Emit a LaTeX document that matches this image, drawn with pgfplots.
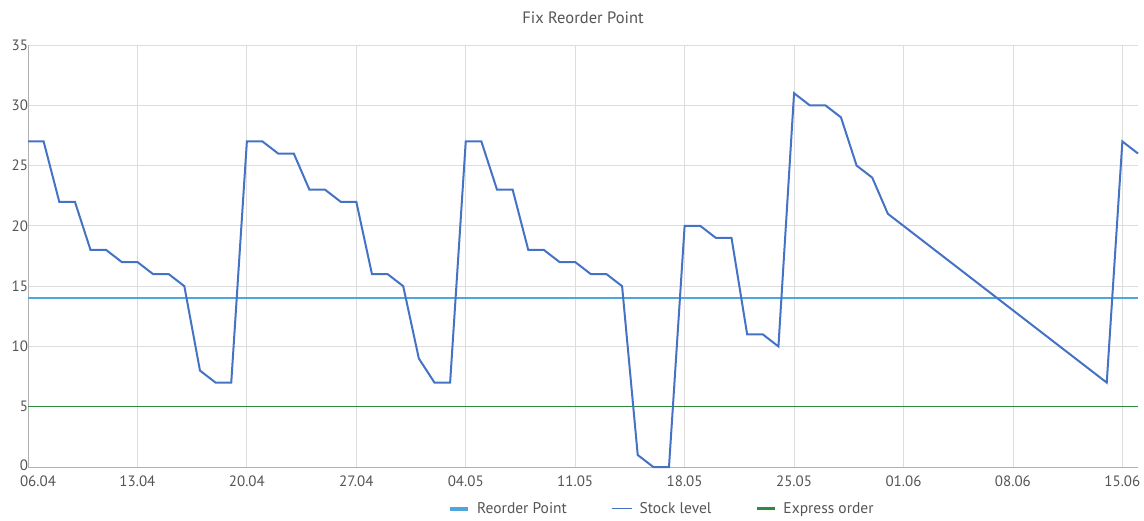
\documentclass[border=0pt]{standalone}
\usepackage{pgfplots}
\pgfplotsset{compat=1.18}
\usepackage{fontspec}
\setmainfont{PT Sans}
\definecolor{rop}{HTML}{4EA6DC}
\definecolor{stock}{HTML}{4472C4}
\definecolor{expr}{HTML}{2E8B3E}
\definecolor{txt}{HTML}{555555}
\definecolor{gridc}{HTML}{DDDDDD}
\begin{document}
\begin{tikzpicture}
\begin{axis}[
  scale only axis,
  width=1110pt, height=422pt,
  xmin=0, xmax=71, ymin=0, ymax=35,
  xtick={0,7,...,70},
  xticklabels={\hspace*{20pt}06.04,13.04,20.04,27.04,04.05,11.05,18.05,25.05,01.06,08.06,15.06},
  ytick={0,5,...,35},
  yticklabels={\raisebox{3pt}{0},5,10,15,20,25,30,35},
  grid=major,
  major grid style={draw=gridc, line width=0.8pt},
  axis x line*=bottom, axis y line*=left,
  axis line style={draw=gridc!80!black, line width=0.8pt, -},
  tick style={draw=none},
  ticklabel style={font=\fontsize{15}{17}\selectfont, text=txt},
  /pgf/number format/assume math mode=true,
  xticklabel style={yshift=-5pt},
  yticklabel style={xshift=3.5pt},
  title={Fix Reorder Point},
  title style={font=\fontsize{16.5}{19}\selectfont, text=txt, yshift=12pt},
  legend style={at={(rel axis cs:0.3757,0)}, anchor=north west, yshift=-31pt, draw=none,
    font=\fontsize{15.5}{18}\selectfont, text=txt, column sep=0pt},
  legend columns=3,
  /tikz/every odd column/.append style={column sep=5pt},
  /tikz/every even column/.append style={column sep=42pt},
  legend cell align=left,
  clip=false,
]
\addlegendimage{legend image code/.code={\draw[rop, line width=4pt] (0pt,0pt) -- (18pt,0pt);}}
\addlegendentry{Reorder Point}
\addlegendimage{legend image code/.code={\draw[stock, line width=1.6pt] (0pt,0pt) -- (20pt,0pt);}}
\addlegendentry{Stock level}
\addlegendimage{legend image code/.code={\draw[expr, line width=3pt] (0pt,0pt) -- (18pt,0pt);}}
\addlegendentry{Express order}
\addplot[rop, line width=1.8pt, forget plot] coordinates {(0,14) (71,14)};
\addplot[expr, line width=1.4pt, forget plot] coordinates {(0,5) (71,5)};
\addplot[stock, line width=2pt, forget plot] coordinates {
(0,27) (1,27) (2,22) (3,22) (4,18) (5,18) (6,17) (7,17) (8,16) (9,16)
(10,15) (11,8) (12,7) (13,7) (14,27) (15,27) (16,26) (17,26) (18,23) (19,23)
(20,22) (21,22) (22,16) (23,16) (24,15) (25,9) (26,7) (27,7) (28,27) (29,27)
(30,23) (31,23) (32,18) (33,18) (34,17) (35,17) (36,16) (37,16) (38,15) (39,1)
(40,0) (41,0) (42,20) (43,20) (44,19) (45,19) (46,11) (47,11) (48,10) (49,31)
(50,30) (51,30) (52,29) (53,25) (54,24) (55,21) (69,7) (70,27) (71,26)};
\path (rel axis cs:0,0) ++(-28pt,-53pt) coordinate (bl);
\path (rel axis cs:1,1) ++(6pt,45pt) coordinate (tr);
\end{axis}
\pgfresetboundingbox
\path[use as bounding box] (bl) rectangle (tr);
\end{tikzpicture}
\end{document}
